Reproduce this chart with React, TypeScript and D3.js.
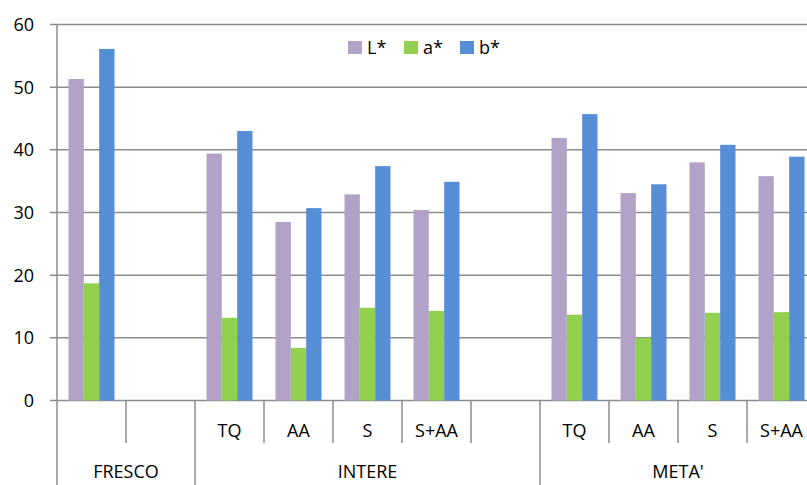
import React from "react";
import * as d3 from "d3";

// slot labels (empty slots are spacers in the original sheet)
const categories = ["", "", "TQ", "AA", "S", "S+AA", "", "TQ", "AA", "S", "S+AA"];
const groupLabels = ["FRESCO", "INTERE", "META'"];
const groupSizes = [2, 5, 4];

const seriesNames = ["L*", "a*", "b*"];
const valuesL = [51.3, null, 39.4, 28.5, 32.9, 30.4, null, 41.9, 33.1, 38.0, 35.8];
const valuesA = [18.7, null, 13.2, 8.4, 14.8, 14.3, null, 13.7, 10.0, 14.0, 14.1];
const valuesB = [56.1, null, 43.0, 30.7, 37.4, 34.9, null, 45.7, 34.5, 40.8, 38.9];
const yTicks = [0, 10, 20, 30, 40, 50, 60];

const colors = ["#B3A2C7", "#92D050", "#558ED5"];
const lineColor = "#8c8c8c";
const font = "'Open Sans', sans-serif";

const W = 807;
const H = 485;
const left = 57;
const slotW = 69;
const top = 24.5;
const base = 400.5;

const App = () => {
  const series = [valuesL, valuesA, valuesB];
  const idx = categories.map((_, i) => i);

  const x = d3
    .scaleBand<number>()
    .domain(idx)
    .range([left, left + slotW * categories.length])
    .paddingInner(0)
    .paddingOuter(0);

  const inner = d3
    .scaleBand<number>()
    .domain([0, 1, 2])
    .range([11.5, slotW - 11.5])
    .padding(0);

  const y = d3.scaleLinear().domain([0, 60]).range([base, top]);

  // group boundaries
  const groupStarts = d3.cumsum([0, ...groupSizes]);

  return (
    <svg
      width={W}
      height={H}
      style={{ position: "absolute", left: 0, top: 0, background: "#fff" }}
      fontFamily={font}
    >
      {/* grid lines + y ticks */}
      {yTicks.map(t => (
        <g key={t}>
          <line x1={50} x2={W} y1={y(t)} y2={y(t)} stroke={lineColor} strokeWidth={1.5} />
          <text x={34} y={y(t)} dy="0.36em" textAnchor="end" fontSize={18} fill="#000">
            {t}
          </text>
        </g>
      ))}

      {/* bars */}
      {series.map((vals, s) =>
        vals.map((v, i) =>
          v == null ? null : (
            <rect
              key={s + "-" + i}
              x={(x(i) as number) + (inner(s) as number)}
              y={y(v)}
              width={inner.bandwidth()}
              height={base - y(v)}
              fill={colors[s]}
            />
          )
        )
      )}

      {/* axes */}
      <line x1={left} x2={left} y1={top} y2={H} stroke={lineColor} strokeWidth={1.5} />
      {idx.slice(1).map(i => {
        const isGroup = groupStarts.includes(i);
        return (
          <line
            key={i}
            x1={x(i)}
            x2={x(i)}
            y1={base}
            y2={isGroup ? H : 443}
            stroke={lineColor}
            strokeWidth={1.5}
          />
        );
      })}

      {/* category labels */}
      {categories.map((c, i) => (
        <text
          key={i}
          x={(x(i) as number) + slotW / 2}
          y={437}
          textAnchor="middle"
          fontSize={18}
          fill="#000"
        >
          {c}
        </text>
      ))}

      {/* group labels */}
      {groupLabels.map((g, k) => {
        const x0 = x(groupStarts[k]) as number;
        const x1 = x0 + groupSizes[k] * slotW;
        return (
          <text key={g} x={(x0 + x1) / 2} y={478} textAnchor="middle" fontSize={18} fill="#000">
            {g}
          </text>
        );
      })}

      {/* legend */}
      {seriesNames.map((n, s) => {
        const lx = 348 + s * 56;
        return (
          <g key={n}>
            <rect x={lx} y={41} width={14} height={13} fill={colors[s]} />
            <text x={lx + 19} y={54} fontSize={18} fill="#000">
              {n}
            </text>
          </g>
        );
      })}
    </svg>
  );
};

export default App;
